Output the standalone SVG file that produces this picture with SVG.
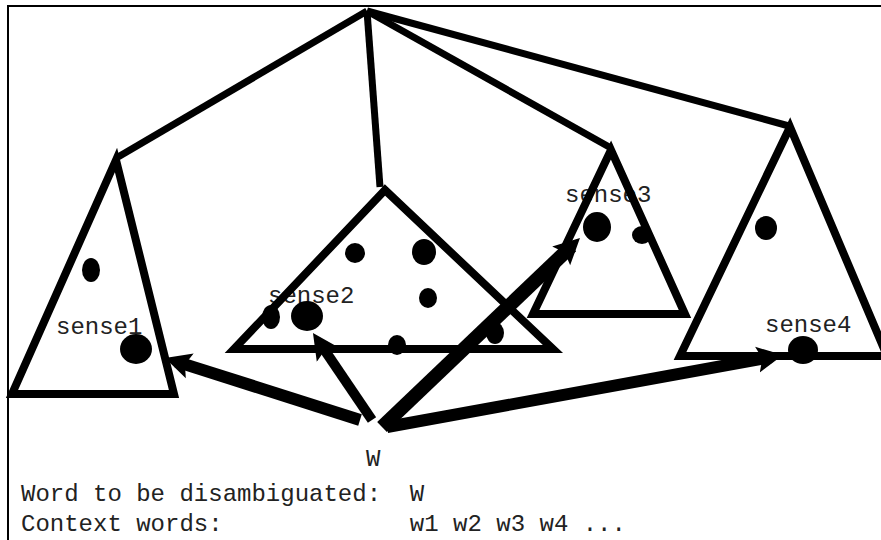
<svg xmlns="http://www.w3.org/2000/svg" width="881" height="540" viewBox="0 0 881 540">
<style>
  .tri { fill: none; stroke: #000; stroke-width: 8; stroke-linejoin: miter; }
  .edge { fill: none; stroke: #000; stroke-width: 7; }
  .arr { fill: none; stroke: #000; marker-end: url(#head); }
  .dot { fill: #000; }
  .lbl { font-family: "Liberation Mono", "Courier New", monospace; font-size: 24px; fill: #222; }
</style>
<defs>
  <marker id="head" markerUnits="userSpaceOnUse" markerWidth="28" markerHeight="28" refX="14" refY="13" orient="auto" viewBox="0 0 28 26">
    <path d="M0,0 L26,13 L0,26 L5,13 Z" fill="#000"/>
  </marker>
</defs>
<rect x="8" y="6" width="900" height="600" fill="#fff" stroke="#000" stroke-width="2"/>

<g id="sense1">
  <text class="lbl" x="56" y="334">sense1</text>
  <polygon class="tri" points="116,160 12,394 174,394"/>
  <ellipse class="dot" cx="91" cy="270" rx="9" ry="12"/>
  <ellipse class="dot" cx="136" cy="349" rx="16" ry="15"/>
</g>

<g id="sense2">
  <text class="lbl" x="268" y="303">sense2</text>
  <polygon class="tri" points="385,190 234,349 553,349"/>
  <circle class="dot" cx="355" cy="253" r="10"/>
  <ellipse class="dot" cx="424" cy="252" rx="12" ry="13"/>
  <ellipse class="dot" cx="428" cy="298" rx="9" ry="10"/>
  <ellipse class="dot" cx="271" cy="317" rx="9" ry="12"/>
  <ellipse class="dot" cx="307" cy="316" rx="16" ry="15"/>
  <ellipse class="dot" cx="397" cy="345" rx="9" ry="10"/>
  <ellipse class="dot" cx="495" cy="333" rx="9" ry="11"/>
</g>

<g id="sense3">
  <text class="lbl" x="565" y="202">sense3</text>
  <polygon class="tri" points="611,150 533,314 685,314"/>
  <ellipse class="dot" cx="597" cy="227" rx="14" ry="15"/>
  <ellipse class="dot" cx="642" cy="235" rx="10" ry="9"/>
</g>

<g id="sense4">
  <text class="lbl" x="765" y="332">sense4</text>
  <polygon class="tri" points="790,127 680,356 887,356"/>
  <ellipse class="dot" cx="766" cy="228" rx="11" ry="12"/>
  <ellipse class="dot" cx="803" cy="350" rx="15" ry="14"/>
</g>

<g id="W">
  <text class="lbl" x="366" y="466">W</text>
</g>

<g id="legend">
  <text class="lbl" x="21" y="501" xml:space="preserve">Word to be disambiguated:  W</text>
  <text class="lbl" x="21" y="531" xml:space="preserve">Context words:             w1 w2 w3 w4 ...</text>
</g>

<g id="connectors">
  <line class="edge" x1="367" y1="11" x2="118" y2="157"/>
  <line class="edge" x1="367" y1="11" x2="380" y2="187"/>
  <line class="edge" x1="367" y1="11" x2="611" y2="148"/>
  <line class="edge" x1="367" y1="11" x2="789" y2="126"/>
  <line class="arr" stroke-width="12" x1="360" y1="420" x2="176.4" y2="361.6"/>
  <line class="arr" stroke-width="10" x1="372" y1="420" x2="319.7" y2="342.9"/>
  <line class="arr" stroke-width="14" x1="382" y1="427" x2="571.3" y2="246.3"/>
  <line class="arr" stroke-width="12" x1="387" y1="427" x2="771.2" y2="357.1"/>
</g>
</svg>
